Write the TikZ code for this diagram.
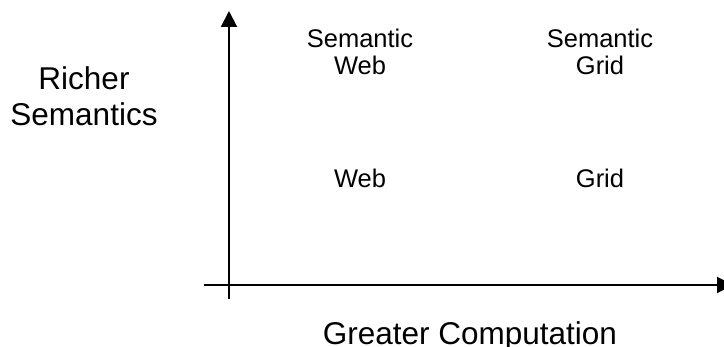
\documentclass[tikz,border=0pt]{standalone}
\usepackage{fontspec}
\setmainfont{Liberation Sans}
\usetikzlibrary{arrows.meta, positioning}

\begin{document}
\begin{tikzpicture}[
    x=1pt, y=-1pt,
    cell/.style={align=center, inner sep=0pt,
                 font=\fontsize{25.5}{27}\selectfont},
    axislabel/.style={align=center, inner sep=0pt,
                 font=\fontsize{31.5}{36}\selectfont},
    axis/.style={-{Triangle[length=16pt, width=16pt]}, line width=2pt}
]
\useasboundingbox (0,0) rectangle (724,347);

\coordinate (ybot) at (229,299);
\coordinate (ytop) at (229,11);
\coordinate (xleft) at (204,285);
\coordinate (xright) at (733,285);

\node[cell, anchor=base] (semweb) at (360,75) {Semantic\\Web};
\node[cell, anchor=base] (semgrid) at (600,75) {Semantic\\Grid};
\node[cell, anchor=base] (web) at (360,188) {Web};
\node[cell, anchor=base] (grid) at (600,188) {Grid};
\node[axislabel, anchor=base] (richer) at (84,126) {Richer\\Semantics};
\node[axislabel, anchor=base] (greater) at (470,345) {Greater Computation};

\draw[axis] (ybot) -- (ytop);
\draw[axis] (xleft) -- (xright);
\end{tikzpicture}
\end{document}
